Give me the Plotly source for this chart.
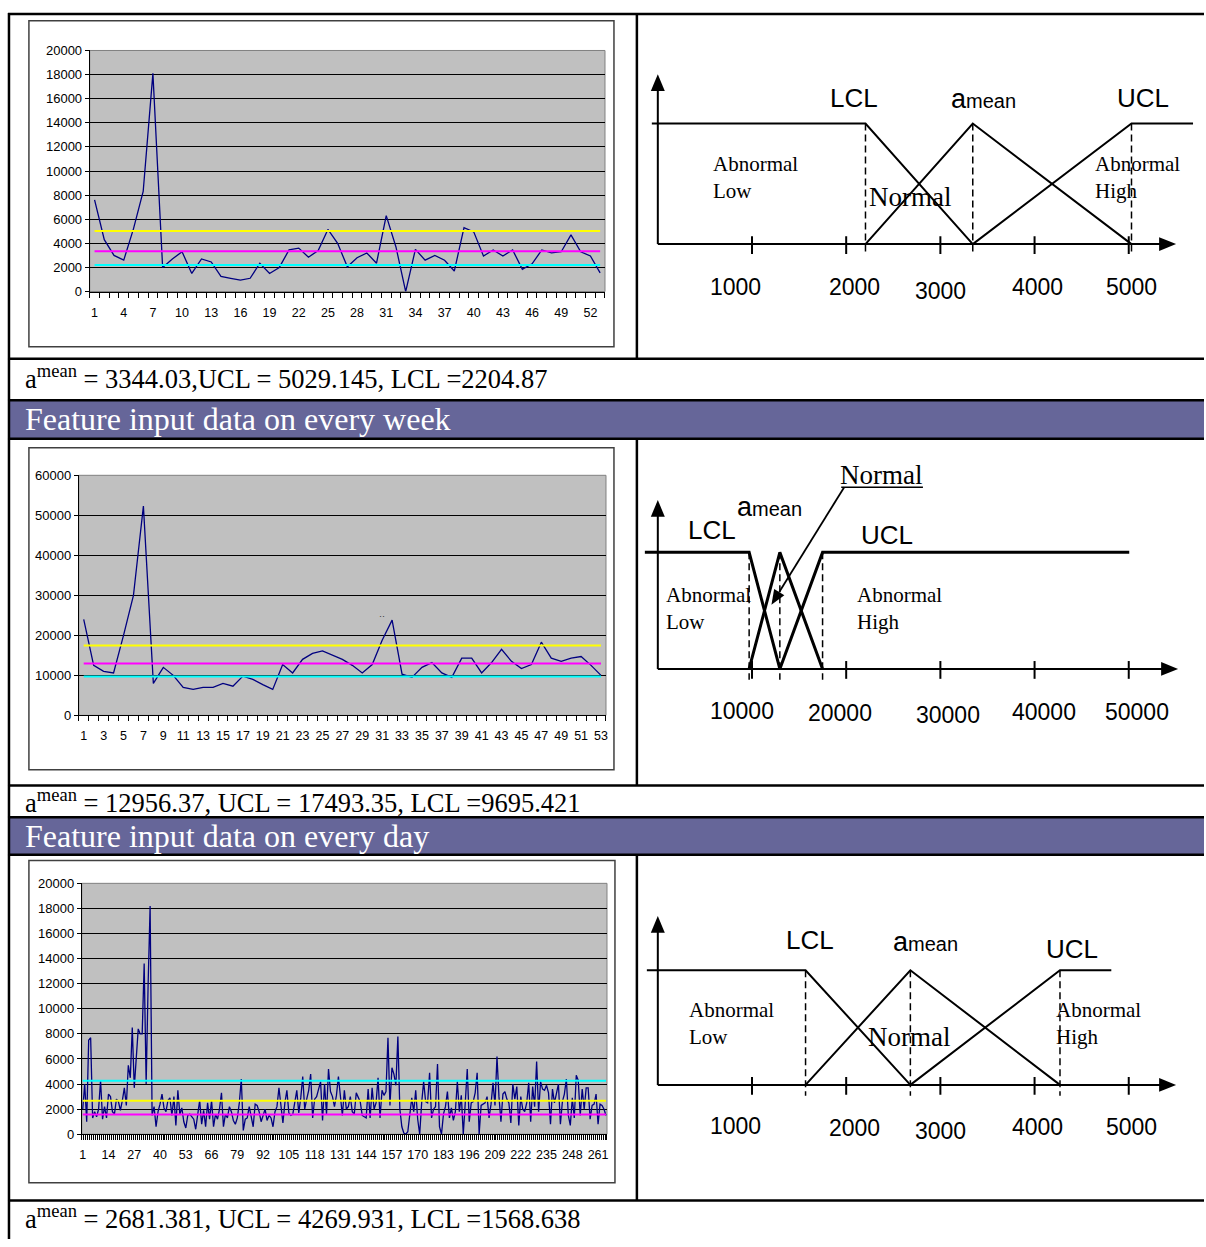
import math
import plotly.graph_objects as go

# ---------------- series plotted in the three control charts ----------------
top_values = [7600, 4300, 3000, 2600, 5200, 8300, 18100, 2000, 2700, 3300,
              1500, 2700, 2450, 1250, 1100, 950, 1100, 2350, 1500, 2000,
              3450, 3600, 2850, 3400, 5150, 4000, 2050, 2800, 3200, 2350,
              6300, 3700, 0, 3500, 2600, 3000, 2600, 1700, 5300, 4950,
              2950, 3450, 2950, 3450, 1850, 2300, 3450, 3200, 3300, 4700,
              3300, 2950, 1550]

week_values = [24000, 12500, 11000, 10600, 20000, 30000, 52300, 8000, 12000, 10000,
               7000, 6500, 7000, 7000, 8000, 7300, 9800, 9000, 7700, 6500,
               12700, 10600, 14000, 15500, 16100, 15000, 14000, 12500, 10600, 12700,
               18800, 23800, 10300, 9500, 12000, 13200, 10600, 9500, 14300, 14300,
               10600, 13200, 16500, 13500, 11700, 12700, 18300, 14300, 13500, 14300,
               14700, 12500, 10000]

day_values = [
    2000, 4000, 1000, 7500, 7700, 1300, 1800, 1400, 2000, 4300, 1200, 2200, 1300,
    3200, 3000, 1800, 1600, 2800, 2600, 1900, 2700, 3700, 2300, 5500, 4500, 8500,
    3700, 6000, 8400, 8000, 8000, 13600, 4000, 12000, 18200, 1500, 2200, 600, 1800,
    2400, 3200, 2100, 1800, 2700, 2900, 1500, 3000, 700, 3500, 1600, 2100, 1000,
    500, 1500, 1600, 1400, 1200, 400, 1800, 2700, 800, 1900, 600, 2500, 1200,
    2700, 600, 1600, 1200, 2000, 3300, 600, 1600, 1300, 2200, 1800, 1100, 800,
    1300, 2500, 4400, 300, 1200, 1300, 2200, 1500, 600, 2400, 2300, 1800, 1000,
    1500, 2000, 1100, 1500, 1300, 600, 1800, 2200, 3700, 2200, 900, 2500, 3500,
    1700, 1500, 1600, 2400, 3500, 1700, 2900, 4600, 2000, 2800, 3500, 4800, 1300,
    2800, 3000, 3600, 4200, 1100, 4000, 1600, 5200, 3400, 3000, 2200, 3100, 4600,
    2700, 1500, 3500, 2000, 2200, 3000, 1800, 1600, 3300, 3000, 2600, 1500, 1400,
    1300, 3600, 1300, 3700, 2000, 2500, 4500, 1300, 3500, 3100, 3400, 7700, 2300,
    5300, 4800, 3900, 7800, 2000, 600, 100, 0, 200, 1500, 2900, 1800, 3500,
    1200, 0, 2500, 4200, 2600, 2500, 4900, 1300, 2000, 2200, 5600, 600, 0,
    1600, 2200, 3400, 1300, 2100, 1100, 1800, 4200, 1800, 3100, 0, 2500, 5200,
    1000, 2500, 2600, 3300, 4900, 0, 2300, 2400, 2500, 3000, 1300, 2400, 4100,
    2300, 6200, 3000, 1000, 3200, 3400, 2800, 2500, 900, 4000, 2800, 3800, 700,
    3000, 2000, 1800, 2500, 4100, 1000, 3800, 2200, 5800, 1800, 4200, 3600, 3500,
    3900, 3300, 800, 3600, 2500, 3300, 4000, 800, 2600, 3200, 4400, 1500, 700,
    2900, 1300, 4700, 4300, 1500, 3600, 2000, 3700, 3700, 1200, 2300, 2400, 3200,
    800, 2400, 2300, 2000, 1500]

# control limits of each series
mean_values = [3344.03, 12956.37, 2681.381]
ucl_values = [5029.145, 17493.35, 4269.931]
lcl_values = [2204.87, 9695.421, 1568.638]

y_maxima = [20000, 60000, 20000]
y_steps = [2000, 10000, 2000]
x_label_steps = [3, 2, 13]

# tick values of the fuzzy membership sketches
fuzzy_ticks = [[1000, 2000, 3000, 4000, 5000],
               [10000, 20000, 30000, 40000, 50000],
               [1000, 2000, 3000, 4000, 5000]]

band_titles = ["Feature input data on every week", "Feature input data on every day"]

# ---------------- page geometry (pixels) ----------------
W, H = 1206, 1247


def px(x):
    return x / W


def py(y):
    return 1 - y / H


SANS = "Liberation Sans, Arial, sans-serif"
SERIF = "Liberation Serif, Times New Roman, serif"
NAVY = "#000080"

chart_frames = [(27, 14, 614, 344), (27, 446, 614, 772), (27, 864, 615, 1190)]
plot_boxes = [(88, 44, 605, 288), (77, 474, 606, 717), (80, 887, 607, 1141)]
# colours of the (UCL, mean, LCL) reference lines
ref_colors = [("#FFFF00", "#FF00FF", "#00FFFF"),
              ("#FFFF00", "#FF00FF", "#00FFFF"),
              ("#00FFFF", "#FFFF00", "#FF00FF")]
caption_y = [375, 804, 1225]
band_rows = [(398, 437), (820, 858)]

fig = go.Figure()
shapes = []
annotations = []
layout_axes = {}

# ---------------- table grid ----------------
GRID = dict(color="black", width=2.5)
for (y0, y1) in band_rows:
    shapes.append(dict(type="rect", xref="paper", yref="paper", x0=px(7), x1=1,
                       y0=py(y1), y1=py(y0), fillcolor="#666699", line=dict(width=0), layer="below"))
for y in [7, 356, 398, 437, 788, 820, 858, 1208]:
    shapes.append(dict(type="line", xref="paper", yref="paper", x0=px(6), x1=1,
                       y0=py(y), y1=py(y), line=GRID))
shapes.append(dict(type="line", xref="paper", yref="paper", x0=px(7), x1=px(7),
                   y0=py(6), y1=0, line=GRID))
for (y0, y1) in [(7, 356), (437, 788), (858, 1208)]:
    shapes.append(dict(type="line", xref="paper", yref="paper", x0=px(637), x1=px(637),
                       y0=py(y0), y1=py(y1), line=GRID))

for k, title in enumerate(band_titles):
    y0, y1 = band_rows[k]
    annotations.append(dict(text=title, xref="paper", yref="paper", x=px(21), y=py((y0 + y1) / 2),
                            xanchor="left", yanchor="middle", showarrow=False,
                            font=dict(family=SERIF, size=32, color="white")))

for k in range(3):
    seps = "," if k == 0 else ", "
    caption = (f"a<sup>mean</sup> = {mean_values[k]}{seps}UCL = {ucl_values[k]}, "
               f"LCL ={lcl_values[k]}")
    annotations.append(dict(text=caption, xref="paper", yref="paper", x=px(21), y=py(caption_y[k]),
                            xanchor="left", yanchor="middle", showarrow=False,
                            font=dict(family=SERIF, size=26.5, color="black")))

# ---------------- control charts ----------------
series_list = [top_values, week_values, day_values]
for k, values in enumerate(series_list):
    ax = k + 1
    xa, ya = f"x{ax}", f"y{ax}"
    n = len(values)
    xs = list(range(1, n + 1))
    fx0, fy0, fx1, fy1 = chart_frames[k]
    bx0, by0, bx1, by1 = plot_boxes[k]

    # chart frame and grey plot area
    shapes.append(dict(type="rect", xref="paper", yref="paper", x0=px(fx0), x1=px(fx1),
                       y0=py(fy1), y1=py(fy0), line=dict(color="#404040", width=1.5),
                       layer="below"))
    shapes.append(dict(type="rect", xref="paper", yref="paper", x0=px(bx0), x1=px(bx1),
                       y0=py(by1), y1=py(by0), fillcolor="#C0C0C0",
                       line=dict(color="#808080", width=1), layer="below"))

    fig.add_trace(go.Scatter(x=xs, y=values, mode="lines", line=dict(color=NAVY, width=1.3),
                             xaxis=xa, yaxis=ya, hoverinfo="skip"))
    for val, col in zip((ucl_values[k], mean_values[k], lcl_values[k]), ref_colors[k]):
        fig.add_trace(go.Scatter(x=[1, n], y=[val, val], mode="lines",
                                 line=dict(color=col, width=2), xaxis=xa, yaxis=ya,
                                 hoverinfo="skip"))

    step = x_label_steps[k]
    label_pos = list(range(1, n + 1, step))
    layout_axes[f"xaxis{ax}"] = dict(
        domain=[px(bx0), px(bx1)], anchor=ya, range=[0.5, n + 0.5],
        tickmode="array", tickvals=label_pos, ticktext=[str(v) for v in label_pos],
        ticks="", ticklabelstandoff=9, showgrid=False, zeroline=False,
        showline=True, linecolor="black", linewidth=1,
        tickfont=dict(family=SANS, size=12.5, color="black"),
        minor=dict(ticks="outside", ticklen=5, tickwidth=1, tickcolor="black",
                   tickmode="linear", tick0=0.5, dtick=1, showgrid=False),
        fixedrange=True)
    layout_axes[f"yaxis{ax}"] = dict(
        domain=[py(by1), py(by0)], anchor=xa, range=[0, y_maxima[k]],
        tickmode="linear", tick0=0, dtick=y_steps[k], tickformat="d",
        ticks="outside", ticklen=4,
        tickcolor="black", showgrid=True, gridcolor="black", gridwidth=1,
        zeroline=False, showline=True, linecolor="black", linewidth=1,
        tickfont=dict(family=SANS, size=13, color="black"), fixedrange=True)

# small stray mark above the second weekly peak
annotations.append(dict(text="··", xref="x2", yref="y2", x=31, y=24800, showarrow=False,
                        font=dict(family=SANS, size=9, color="#333333")))

# ---------------- fuzzy membership sketches ----------------
diagrams = [
    dict(cell=(637, 7, 1206, 356), origin=(658, 240), unit_px=94.5 / 1000, level_px=122,
         lw=2, low_start_px=652, high_end_px=1195, x_tip_px=1178, y_tip_px=68,
         labels=[("LCL", 855, 92), ("UCL", 1145, 92)], amean=(985, 93),
         low_text=(711, 173), high_text=(1095, 173), normal=(911, 192),
         tick_labels=[(736, 283), (855, 283), (942, 287), (1039, 283), (1133, 283)]),
    dict(cell=(637, 437, 1206, 788), origin=(658, 670), unit_px=94.5 / 10000, level_px=118,
         lw=3, low_start_px=645, high_end_px=1131, x_tip_px=1180, y_tip_px=499,
         labels=[("LCL", 712, 529), ("UCL", 888, 534)], amean=(770, 506),
         low_text=(664, 609), high_text=(856, 609), normal=(882, 474),
         tick_labels=[(742, 713), (841, 715), (949, 717), (1045, 714), (1139, 714)]),
    dict(cell=(637, 858, 1206, 1208), origin=(658, 1091), unit_px=94.5 / 1000, level_px=116,
         lw=2, low_start_px=647, high_end_px=1113, x_tip_px=1178, y_tip_px=920,
         labels=[("LCL", 811, 944), ("UCL", 1074, 953)], amean=(927, 946),
         low_text=(687, 1029), high_text=(1055, 1029), normal=(910, 1043),
         tick_labels=[(736, 1133), (855, 1135), (942, 1138), (1039, 1134), (1133, 1134)]),
]

for k, d in enumerate(diagrams):
    ax = k + 4
    xa, ya = f"x{ax}", f"y{ax}"
    cx0, cy0, cx1, cy1 = d["cell"]
    ox, oy = d["origin"]
    sx, sy = d["unit_px"], d["level_px"]

    def dx(p, ox=ox, sx=sx):
        return (p - ox) / sx

    def dy(p, oy=oy, sy=sy):
        return (oy - p) / sy

    layout_axes[f"xaxis{ax}"] = dict(domain=[px(cx0), px(cx1)], anchor=ya,
                                     range=[dx(cx0), dx(cx1)], visible=False, fixedrange=True)
    layout_axes[f"yaxis{ax}"] = dict(domain=[py(cy1), py(cy0)], anchor=xa,
                                     range=[dy(cy1), dy(cy0)], visible=False, fixedrange=True)

    lcl, mean, ucl = lcl_values[k], mean_values[k], ucl_values[k]
    line = dict(color="black", width=d["lw"])
    # abnormal low / normal / abnormal high membership functions
    fig.add_trace(go.Scatter(x=[dx(d["low_start_px"]), lcl, mean], y=[1, 1, 0], mode="lines",
                             line=line, xaxis=xa, yaxis=ya, hoverinfo="skip"))
    fig.add_trace(go.Scatter(x=[lcl, mean, ucl], y=[0, 1, 0], mode="lines",
                             line=line, xaxis=xa, yaxis=ya, hoverinfo="skip"))
    fig.add_trace(go.Scatter(x=[mean, ucl, dx(d["high_end_px"])], y=[0, 1, 1], mode="lines",
                             line=line, xaxis=xa, yaxis=ya, hoverinfo="skip"))
    # dashed guides at the three control values
    for v in (lcl, mean, ucl):
        fig.add_trace(go.Scatter(x=[v, v], y=[1, dy(oy + 11)], mode="lines",
                                 line=dict(color="black", width=1.5, dash="7px,4px"),
                                 xaxis=xa, yaxis=ya, hoverinfo="skip"))

    # axes with arrow heads
    ax_line = dict(color="black", width=2)
    head_len, head_half = 17, 7
    shapes.append(dict(type="line", xref=xa, yref=ya, x0=0, x1=0, y0=0,
                       y1=dy(d["y_tip_px"] + head_len - 2), line=ax_line))
    shapes.append(dict(type="path", xref=xa, yref=ya, line=dict(width=0), fillcolor="black",
                       path=(f"M {dx(ox - head_half)} {dy(d['y_tip_px'] + head_len)} "
                             f"L {dx(ox)} {dy(d['y_tip_px'])} "
                             f"L {dx(ox + head_half)} {dy(d['y_tip_px'] + head_len)} Z")))
    shapes.append(dict(type="line", xref=xa, yref=ya, x0=0, x1=dx(d["x_tip_px"] - head_len + 2),
                       y0=0, y1=0, line=ax_line))
    shapes.append(dict(type="path", xref=xa, yref=ya, line=dict(width=0), fillcolor="black",
                       path=(f"M {dx(d['x_tip_px'] - head_len)} {dy(oy - head_half)} "
                             f"L {dx(d['x_tip_px'])} {dy(oy)} "
                             f"L {dx(d['x_tip_px'] - head_len)} {dy(oy + head_half)} Z")))
    for t in fuzzy_ticks[k]:
        shapes.append(dict(type="line", xref=xa, yref=ya, x0=t, x1=t,
                           y0=dy(oy - 8), y1=dy(oy + 10), line=ax_line))

    for (t, (lx, ly)) in zip(fuzzy_ticks[k], d["tick_labels"]):
        annotations.append(dict(text=str(t), xref="paper", yref="paper", x=px(lx), y=py(ly),
                                xanchor="center", yanchor="middle", showarrow=False,
                                font=dict(family=SANS, size=23, color="black")))
    for (txt, lx, ly) in d["labels"]:
        annotations.append(dict(text=txt, xref="paper", yref="paper", x=px(lx), y=py(ly),
                                xanchor="center", yanchor="middle", showarrow=False,
                                font=dict(family=SANS, size=26, color="black")))
    annotations.append(dict(text="<span style='font-size:27px'>a</span>mean", xref="paper",
                            yref="paper", x=px(d["amean"][0]), y=py(d["amean"][1]),
                            xanchor="center", yanchor="middle", showarrow=False,
                            font=dict(family=SANS, size=20, color="black")))
    for txt, pos in (("Abnormal<br>Low", d["low_text"]), ("Abnormal<br>High", d["high_text"])):
        annotations.append(dict(text=txt, xref="paper", yref="paper", x=px(pos[0]), y=py(pos[1]),
                                xanchor="left", yanchor="middle", align="left", showarrow=False,
                                font=dict(family=SERIF, size=21, color="black")))
    annotations.append(dict(text="Normal", xref="paper", yref="paper", x=px(d["normal"][0]),
                            y=py(d["normal"][1]), xanchor="center", yanchor="middle",
                            showarrow=False, font=dict(family=SERIF, size=27, color="black")))

# call-out for the narrow weekly "Normal" set: underline, leader and arrow head
shapes.append(dict(type="line", xref="paper", yref="paper", x0=px(842), x1=px(924),
                   y0=py(486), y1=py(486), line=dict(color="black", width=1.5)))
tail, tip = (845, 486), (772, 605)
ux, uy = tip[0] - tail[0], tip[1] - tail[1]
ulen = math.hypot(ux, uy)
ux, uy = ux / ulen, uy / ulen
head_len, head_half = 15, 6
bx, by = tip[0] - head_len * ux, tip[1] - head_len * uy
shapes.append(dict(type="line", xref="paper", yref="paper", x0=px(tail[0]), x1=px(bx),
                   y0=py(tail[1]), y1=py(by), line=dict(color="black", width=1.8)))
shapes.append(dict(type="path", xref="paper", yref="paper", line=dict(width=0), fillcolor="black",
                   path=(f"M {px(tip[0])} {py(tip[1])} "
                         f"L {px(bx - head_half * uy)} {py(by + head_half * ux)} "
                         f"L {px(bx + head_half * uy)} {py(by - head_half * ux)} Z")))

fig.update_layout(width=W, height=H, margin=dict(l=0, r=0, t=0, b=0),
                  paper_bgcolor="white", plot_bgcolor="white", showlegend=False,
                  shapes=shapes, annotations=annotations, **layout_axes)

fig.write_html("out.html")
